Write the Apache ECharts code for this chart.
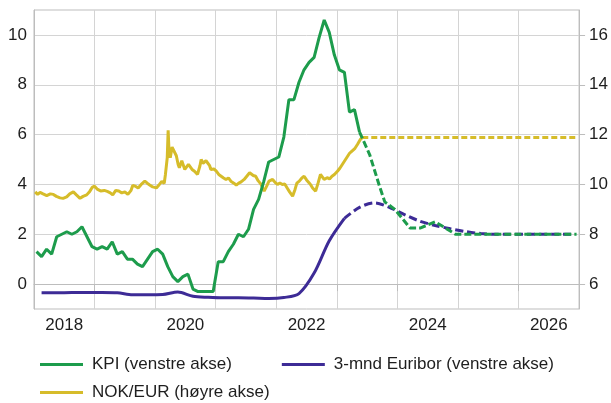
<!DOCTYPE html>
<html>
<head>
<meta charset="utf-8">
<script src="https://cdn.jsdelivr.net/npm/echarts@6/dist/echarts.min.js"></script>
<style>
html,body{margin:0;padding:0;background:#fff;}
#chart{width:611px;height:403px;}
</style>
</head>
<body>
<div id="chart"></div>
<script>
// ---------- DATA ----------
const yearLabels = ['2018','2019','2020','2021','2022','2023','2024','2025','2026'];

// KPI (monthly, from 2018-01), actual
const kpiStart = '2018-01';
const kpiValues = [
  1.3,1.1,1.4,1.2,1.9,2.0,2.1,2.0,2.1,2.3,1.9,1.5,
  1.4,1.5,1.4,1.7,1.2,1.3,1.0,1.0,0.8,0.7,1.0,1.3,
  1.4,1.2,0.7,0.3,0.1,0.3,0.4,-0.2,-0.3,-0.3,-0.3,-0.3,
  0.9,0.9,1.3,1.6,2.0,1.9,2.2,3.0,3.4,4.1,4.9,5.0,
  5.1,5.9,7.4,7.4,8.1,8.6,8.9,9.1,9.9,10.6,10.1,9.2,
  8.6,8.5,6.9,7.0,6.1
];
// KPI projection
const kpiProjMonths = ['2023-05','2023-07','2023-09','2023-10','2023-12','2024-03','2024-05','2024-08','2024-12','2026-12'];
const kpiProjValues = [6.1,5.2,3.9,3.3,3.0,2.25,2.25,2.5,2.0,2.0];

// 3-mnd Euribor (quarterly, from 2018Q1), actual
const euriborStart = '2018-Q1';
const euriborValues = [
  -0.35,-0.35,-0.34,-0.34,
  -0.34,-0.35,-0.43,-0.43,
  -0.42,-0.32,-0.49,-0.53,
  -0.55,-0.55,-0.56,-0.58,
  -0.54,-0.38,0.44,1.74,
  2.64
];
// Euribor projection (quarterly, from 2023Q1)
const euriborProjQuarters = ['2023-Q1','2023-Q2','2023-Q3','2023-Q4','2024-Q1','2024-Q2','2024-Q3','2024-Q4','2025-Q1','2025-Q2','2025-Q3','2026-Q4'];
const euriborProjValues = [2.64,3.08,3.26,3.07,2.78,2.52,2.35,2.22,2.11,2.03,2.0,2.0];

// NOK/EUR (decimal year, value)
const nokYears = [
  2018.02,2018.06,2018.10,2018.15,2018.21,2018.27,2018.32,2018.37,2018.43,2018.48,
  2018.54,2018.59,2018.65,2018.70,2018.76,2018.81,2018.87,2018.92,2018.96,2019.00,
  2019.05,2019.10,2019.16,2019.21,2019.26,2019.30,2019.35,2019.40,2019.45,2019.50,
  2019.55,2019.60,2019.63,2019.68,2019.72,2019.77,2019.83,2019.87,2019.91,2019.96,
  2020.02,2020.07,2020.11,2020.15,2020.17,2020.20,2020.215,2020.23,2020.25,2020.28,
  2020.31,2020.35,2020.38,2020.40,2020.44,2020.46,2020.49,2020.51,2020.55,2020.57,
  2020.61,2020.65,2020.70,2020.74,2020.76,2020.79,2020.81,2020.84,2020.87,2020.90,
  2020.92,2020.97,2021.01,2021.05,2021.09,2021.13,2021.17,2021.21,2021.25,2021.30,
  2021.34,2021.38,2021.42,2021.47,2021.52,2021.56,2021.58,2021.62,2021.66,2021.70,
  2021.75,2021.78,2021.80,2021.84,2021.88,2021.91,2021.94,2021.98,2022.02,2022.06,
  2022.10,2022.14,2022.18,2022.22,2022.27,2022.31,2022.34,2022.38,2022.42,2022.46,
  2022.50,2022.54,2022.57,2022.60,2022.65,2022.69,2022.73,2022.76,2022.79,2022.84,
  2022.88,2022.92,2022.96,2023.01,2023.05,2023.09,2023.13,2023.17,2023.21,2023.25,
  2023.30,2023.34,2023.39,2023.42
];
const nokValues = [
  9.70,9.60,9.68,9.62,9.55,9.62,9.60,9.52,9.46,9.44,
  9.50,9.62,9.70,9.58,9.44,9.52,9.58,9.72,9.88,9.93,
  9.80,9.74,9.76,9.72,9.66,9.58,9.76,9.74,9.66,9.70,
  9.60,9.75,9.96,9.92,9.86,10.00,10.13,10.05,9.98,9.90,
  9.86,10.00,10.12,10.05,10.40,11.07,12.17,11.30,11.07,11.50,
  11.47,11.15,10.80,10.67,10.95,10.87,10.60,10.53,10.80,10.73,
  10.60,10.53,10.40,10.75,11.00,10.85,10.80,10.95,11.00,10.75,
  10.60,10.62,10.53,10.40,10.33,10.26,10.20,10.26,10.13,10.05,
  9.97,10.05,10.10,10.20,10.35,10.47,10.45,10.36,10.33,10.15,
  10.00,9.82,9.73,9.92,10.13,10.05,10.20,10.08,10.00,10.06,
  10.00,10.02,9.86,9.70,9.53,9.80,10.05,10.13,10.25,10.33,
  10.18,10.07,9.98,9.86,9.73,10.05,10.40,10.30,10.20,10.27,
  10.22,10.33,10.40,10.53,10.65,10.80,10.95,11.10,11.25,11.34,
  11.45,11.60,11.81,11.88
];
const nokProjYears = [2023.42, 2026.97];
const nokProjValues = [11.88, 11.88];

const names = {
  kpi: 'KPI (venstre akse)',
  euribor: '3-mnd Euribor (venstre akse)',
  nok: 'NOK/EUR (høyre akse)'
};

// ---------- HELPERS ----------
function monthToYear(s){ const [y,m] = s.split('-').map(Number); return y + (m - 0.5) / 12; }
function quarterToYear(s){ const [y,q] = s.split('-Q').map(Number); return y + (q - 0.5) / 4; }
function monthlySeries(start, vals){
  const [y0,m0] = start.split('-').map(Number);
  return vals.map((v,i)=>[y0 + (m0 - 1 + i + 0.5)/12, v]);
}
function quarterlySeries(start, vals){
  const t0 = quarterToYear(start);
  return vals.map((v,i)=>[t0 + i/4, v]);
}
const zip = (xs, ys) => xs.map((x,i)=>[x, ys[i]]);

const kpiData = monthlySeries(kpiStart, kpiValues);
const kpiProj = zip(kpiProjMonths.map(monthToYear), kpiProjValues);
const euriborData = quarterlySeries(euriborStart, euriborValues);
const euriborProj = zip(euriborProjQuarters.map(quarterToYear), euriborProjValues);
const nokData = zip(nokYears, nokValues);
const nokProj = zip(nokProjYears, nokProjValues);

// ---------- STYLE ----------
const GREEN = '#1d9c4c', PURPLE = '#3d2b96', YELLOW = '#d6bc2a';
const FONT = "'Liberation Sans', Arial, sans-serif";
const TXT = '#1e1e1e';
const GRIDC = '#d4d4d4', AXISC = '#bdbdbd';
const lw = 3;

const chart = echarts.init(document.getElementById('chart'), null, {renderer:'canvas'});
const legendText = {color: TXT, fontSize: 17, fontFamily: FONT, padding: [0,0,0,4]};

chart.setOption({
  animation: false,
  backgroundColor: '#fff',
  grid: {left: 34, right: 30, top: 10, bottom: 94, show: true, borderColor: AXISC, borderWidth: 1},
  legend: [
    {data: [names.kpi, names.euribor], left: 40, top: 356, padding: 0, itemGap: 50,
     itemWidth: 43, itemHeight: 3, icon: 'rect', textStyle: legendText},
    {data: [names.nok], left: 40, top: 384, padding: 0,
     itemWidth: 43, itemHeight: 3, icon: 'rect', textStyle: legendText}
  ],
  xAxis: [
    {type: 'value', min: 2018, max: 2027, interval: 1, position: 'bottom',
     axisLine: {show: true, lineStyle: {color: AXISC, width: 1}},
     axisTick: {show: true, inside: false, length: 7, lineStyle: {color: AXISC}},
     axisLabel: {show: false},
     splitLine: {show: true, lineStyle: {color: GRIDC, width: 1}}},
    {type: 'category', data: yearLabels, boundaryGap: true, position: 'bottom',
     axisLine: {show: false}, axisTick: {show: false}, splitLine: {show: false},
     axisLabel: {interval: 1, margin: 8, color: TXT, fontSize: 17, fontFamily: FONT}}
  ],
  yAxis: [
    {type: 'value', min: -1, max: 11, splitNumber: 6, position: 'left',
     axisLine: {show: true, lineStyle: {color: AXISC}},
     axisTick: {show: false},
     axisLabel: {margin: 7, color: TXT, fontSize: 17, fontFamily: FONT, showMinLabel: false, showMaxLabel: false},
     splitLine: {show: true, showMinLine: false, showMaxLine: false, lineStyle: {color: GRIDC, width: 1}}},
    {type: 'value', min: 5, max: 17, splitNumber: 6, position: 'right',
     axisLine: {show: true, lineStyle: {color: AXISC}},
     axisTick: {show: true, inside: false, length: 6, lineStyle: {color: AXISC}},
     axisLabel: {margin: 10, color: TXT, fontSize: 17, fontFamily: FONT, showMinLabel: false, showMaxLabel: false},
     splitLine: {show: false}}
  ],
  series: [
    {name: names.nok, type: 'line', xAxisIndex: 0, yAxisIndex: 1, data: nokData, showSymbol: false,
     color: YELLOW, lineStyle: {color: YELLOW, width: lw}},
    {name: 'NOK/EUR framskrivning', type: 'line', xAxisIndex: 0, yAxisIndex: 1, data: nokProj, showSymbol: false,
     color: YELLOW, lineStyle: {color: YELLOW, width: lw, type: [6, 3], cap: 'butt'}},
    {name: names.euribor, type: 'line', xAxisIndex: 0, yAxisIndex: 0, data: euriborData, showSymbol: false, smooth: 0.3,
     color: PURPLE, lineStyle: {color: PURPLE, width: lw}},
    {name: '3-mnd Euribor framskrivning', type: 'line', xAxisIndex: 0, yAxisIndex: 0, data: euriborProj, showSymbol: false, smooth: 0.3,
     color: PURPLE, lineStyle: {color: PURPLE, width: lw, type: [8, 4]}},
    {name: names.kpi, type: 'line', xAxisIndex: 0, yAxisIndex: 0, data: kpiData, showSymbol: false,
     color: GREEN, lineStyle: {color: GREEN, width: lw}},
    {name: 'KPI framskrivning', type: 'line', xAxisIndex: 0, yAxisIndex: 0, data: kpiProj, showSymbol: false,
     color: GREEN, lineStyle: {color: GREEN, width: lw, type: [7, 3]}}
  ]
});
</script>
</body>
</html>
